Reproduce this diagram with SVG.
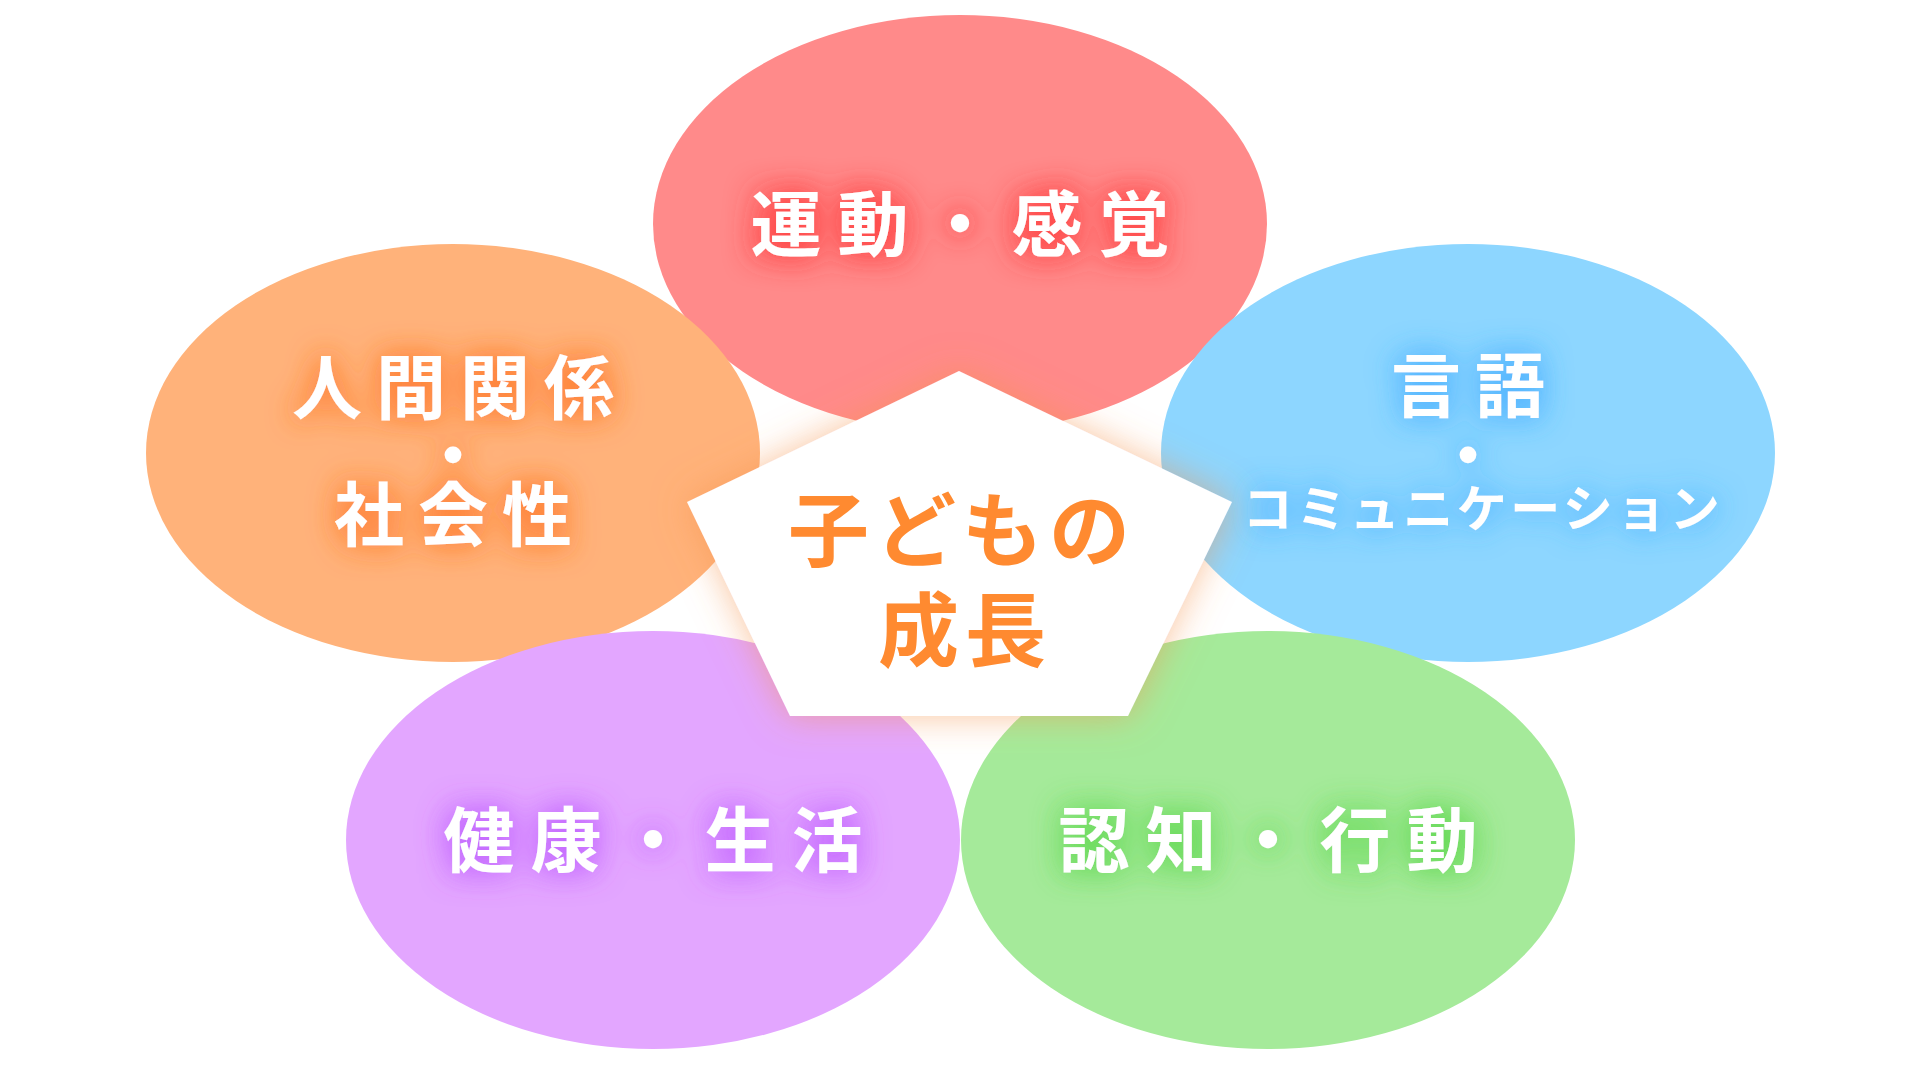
<svg xmlns="http://www.w3.org/2000/svg" width="1920" height="1070" viewBox="0 0 1920 1070">
<defs>
<style>
.lbl{font-family:"Noto Sans CJK JP","Noto Sans CJK SC",sans-serif;font-weight:700;fill:#ffffff;text-anchor:middle;}
.big{font-size:70px;letter-spacing:14px;}
.wide{font-size:71px;letter-spacing:16px;}
.kata{font-size:50px;letter-spacing:3.5px;}
.dot{font-size:30px;letter-spacing:0;stroke:#ffffff;stroke-width:9px;stroke-linejoin:round;}
.ctr{font-family:"Noto Sans CJK JP","Noto Sans CJK SC",sans-serif;font-weight:700;fill:#FF8A30;text-anchor:middle;font-size:81px;letter-spacing:6px;}
</style>
<filter id="gRed" x="-30%" y="-60%" width="160%" height="220%">
<feGaussianBlur in="SourceAlpha" stdDeviation="15" result="b"/>
<feFlood flood-color="#FF4444" flood-opacity="0.9"/>
<feComposite in2="b" operator="in" result="g"/>
<feMerge><feMergeNode in="g"/><feMergeNode in="g"/><feMergeNode in="SourceGraphic"/></feMerge>
</filter>
<filter id="gOrange" x="-30%" y="-30%" width="160%" height="160%">
<feGaussianBlur in="SourceAlpha" stdDeviation="15" result="b"/>
<feFlood flood-color="#FF7A30" flood-opacity="0.8"/>
<feComposite in2="b" operator="in" result="g"/>
<feMerge><feMergeNode in="g"/><feMergeNode in="g"/><feMergeNode in="SourceGraphic"/></feMerge>
</filter>
<filter id="gBlue" x="-30%" y="-30%" width="160%" height="160%">
<feGaussianBlur in="SourceAlpha" stdDeviation="15" result="b"/>
<feFlood flood-color="#4AB0FF" flood-opacity="0.8"/>
<feComposite in2="b" operator="in" result="g"/>
<feMerge><feMergeNode in="g"/><feMergeNode in="g"/><feMergeNode in="SourceGraphic"/></feMerge>
</filter>
<filter id="gPurple" x="-30%" y="-60%" width="160%" height="220%">
<feGaussianBlur in="SourceAlpha" stdDeviation="15" result="b"/>
<feFlood flood-color="#C060FF" flood-opacity="0.8"/>
<feComposite in2="b" operator="in" result="g"/>
<feMerge><feMergeNode in="g"/><feMergeNode in="g"/><feMergeNode in="SourceGraphic"/></feMerge>
</filter>
<filter id="gGreen" x="-30%" y="-60%" width="160%" height="220%">
<feGaussianBlur in="SourceAlpha" stdDeviation="15" result="b"/>
<feFlood flood-color="#60D850" flood-opacity="0.8"/>
<feComposite in2="b" operator="in" result="g"/>
<feMerge><feMergeNode in="g"/><feMergeNode in="g"/><feMergeNode in="SourceGraphic"/></feMerge>
</filter>
<filter id="pentShadow" x="-30%" y="-30%" width="160%" height="160%">
<feGaussianBlur in="SourceAlpha" stdDeviation="18" result="b"/>
<feFlood flood-color="#F5924A" flood-opacity="0.55"/>
<feComposite in2="b" operator="in" result="s"/>
<feMerge><feMergeNode in="s"/><feMergeNode in="SourceGraphic"/></feMerge>
</filter>
</defs>
<rect width="1920" height="1070" fill="#ffffff"/>

<g id="node-undou">
<ellipse cx="960" cy="224" rx="307" ry="209" fill="#FF8A8A"/>
<text class="lbl wide" x="968" y="250" filter="url(#gRed)">運動・感覚</text>
</g>
<g id="node-ningen">
<ellipse cx="453" cy="453" rx="307" ry="209" fill="#FFB27A"/>
<text class="lbl big" filter="url(#gOrange)"><tspan x="460" y="414">人間関係</tspan><tspan class="dot" x="453" y="466">・</tspan><tspan x="460" y="541">社会性</tspan></text>
</g>
<g id="node-gengo">
<ellipse cx="1468" cy="453" rx="307" ry="209" fill="#8DD6FF"/>
<text class="lbl big" filter="url(#gBlue)"><tspan x="1475" y="412">言語</tspan><tspan class="dot" x="1468" y="466">・</tspan><tspan class="kata" x="1483" y="527">コミュニケーション</tspan></text>
</g>
<g id="node-kenkou">
<ellipse cx="653" cy="840" rx="307" ry="209" fill="#E3A6FF"/>
<text class="lbl wide" x="661" y="866" filter="url(#gPurple)">健康・生活</text>
</g>
<g id="node-ninchi">
<ellipse cx="1268" cy="840" rx="307" ry="209" fill="#A5EA9A"/>
<text class="lbl wide" x="1276" y="866" filter="url(#gGreen)">認知・行動</text>
</g>

<g id="node-center">
<polygon points="959,371 1232,502 1128,716 790,716 687,502" fill="#ffffff" filter="url(#pentShadow)"/>
<text class="ctr"><tspan x="962" y="560">子どもの</tspan><tspan x="965" y="660">成長</tspan></text>
</g>
<g id="connectors"></g>
</svg>
